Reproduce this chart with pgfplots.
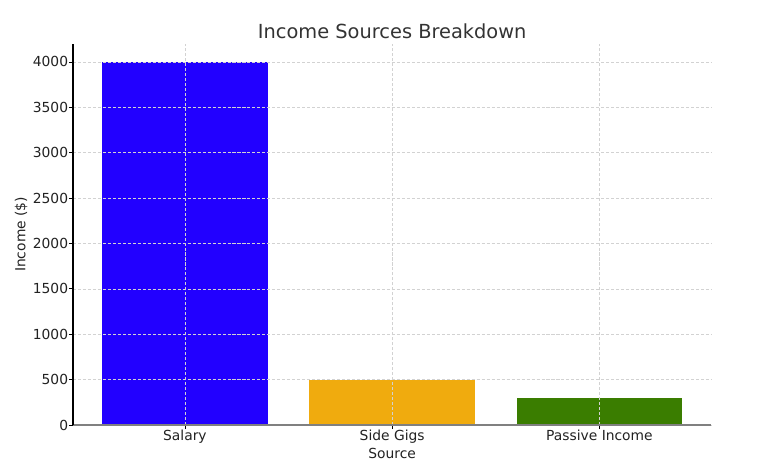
\documentclass[border=0pt]{standalone}
\usepackage{fontspec}
\setmainfont{DejaVu Sans}
\usepackage{pgfplots}
\pgfplotsset{compat=1.18}

\definecolor{barblue}{RGB}{34,0,255}
\definecolor{barorange}{RGB}{240,171,14}
\definecolor{bargreen}{RGB}{58,125,0}
\definecolor{gridgrey}{RGB}{210,210,210}
\definecolor{txt}{RGB}{34,34,34}

\begin{document}
\begin{tikzpicture}[x=0.01in,y=0.01in]
\path[use as bounding box] (-73,-45) rectangle (691,425);
\begin{axis}[
    at={(0,0)}, anchor=south west,
    scale only axis,
    width=6.38in, height=3.81in,
    xmin=-0.54, xmax=2.54,
    ymin=0, ymax=4200,
    xtick={0,1,2},
    xticklabels={Salary, Side Gigs, Passive Income},
    ytick={0,500,...,4000},
    axis lines*=left,
    x axis line style={draw=gray, line width=0.8pt, -},
    y axis line style={draw=black, line width=0.8pt, -},
    grid=major,
    major grid style={gridgrey, dash pattern=on 2.2pt off 1.4pt, line width=0.4pt},
    axis on top,
    tick align=outside,
    major tick length=3pt,
    tick style={black, line width=0.6pt},
    tick label style={font=\fontsize{10}{12}\selectfont, text=txt},
    xticklabel style={yshift=3pt},
    yticklabel style={xshift=3pt},
    /pgf/number format/assume math mode=true,
    /pgf/number format/1000 sep={},
    xlabel={Source},
    ylabel={Income (\$)},
    label style={font=\fontsize{10}{12}\selectfont, text=txt},
    xlabel style={yshift=3pt},
    ylabel style={yshift=-3pt},
    title={Income Sources Breakdown},
    title style={font=\fontsize{14}{16}\selectfont, text=black!80, yshift=-6pt},
    ybar, bar width=0.8, bar shift=0pt,
    clip=false,
]
\addplot[fill=barblue, draw=none] coordinates {(0,4000)};
\addplot[fill=barorange, draw=none] coordinates {(1,500)};
\addplot[fill=bargreen, draw=none] coordinates {(2,300)};
\end{axis}
\end{tikzpicture}
\end{document}
